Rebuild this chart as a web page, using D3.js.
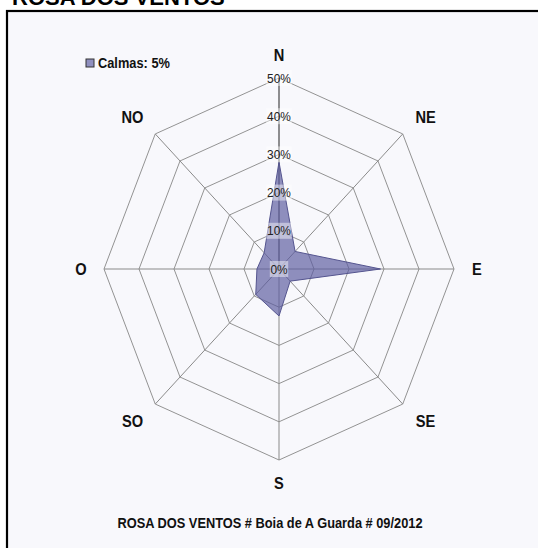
<!DOCTYPE html>
<html>
<head>
<meta charset="utf-8">
<script src="https://cdn.jsdelivr.net/npm/d3@7"></script>
<style>
  html, body { margin: 0; padding: 0; background: #fff; }
  svg { display: block; }
</style>
</head>
<body>
<div id="chart"></div>
<script>
// wind directions and frequency (%)
const directions = ['N', 'NE', 'E', 'SE', 'S', 'SO', 'O', 'NO'];
const frequency = [28, 6.5, 29, 4.5, 12.3, 9.4, 6.3, 6];
const ticks = [0, 10, 20, 30, 40, 50];
const tickLabels = ['0%', '10%', '20%', '30%', '40%', '50%'];
const calmas = 5;

const width = 538, height = 548;
const cx = 279, cy = 269;
const sx = 0.916; // picture is squeezed horizontally

const svg = d3.select('#chart')
    .append('svg')
    .attr('width', width)
    .attr('height', height);

// frame
svg.append('rect')
    .attr('x', 7).attr('y', 11)
    .attr('width', 560).attr('height', 560)
    .attr('fill', '#f8f8fc')
    .attr('stroke', '#000')
    .attr('stroke-width', 2.2);

svg.append('text')
    .attr('x', 12).attr('y', 5)
    .attr('font-family', 'Liberation Sans, Arial, sans-serif')
    .attr('font-weight', 'bold')
    .attr('font-size', 22)
    .attr('fill', '#000')
    .text('ROSA DOS VENTOS');

const rx = d3.scaleLinear().domain([0, 50]).range([0, 175]);
const ry = d3.scaleLinear().domain([0, 50]).range([0, 191]);
const angle = d3.scaleBand().domain(directions).range([0, 2 * Math.PI]);

function px(d, v) { return cx + rx(v) * Math.sin(angle(d)); }
function py(d, v) { return cy - ry(v) * Math.cos(angle(d)); }

const g = svg.append('g');

// rings
g.append('g')
    .selectAll('polygon')
    .data(ticks.slice(1))
    .join('polygon')
    .attr('points', t => directions.map(d => [px(d, t), py(d, t)].join(',')).join(' '))
    .attr('fill', 'none')
    .attr('stroke', '#939393')
    .attr('stroke-width', 1);

// spokes
g.append('g')
    .selectAll('line')
    .data(directions)
    .join('line')
    .attr('x1', cx).attr('y1', cy)
    .attr('x2', d => px(d, 50))
    .attr('y2', d => py(d, 50))
    .attr('stroke', d => d === 'N' ? '#222' : '#8a8a8a')
    .attr('stroke-width', 1);

// data polygon
g.append('polygon')
    .attr('points', directions.map((d, i) => [px(d, frequency[i]), py(d, frequency[i])].join(',')).join(' '))
    .attr('fill', '#5b5b9f')
    .attr('fill-opacity', 0.68)
    .attr('stroke', '#55558f')
    .attr('stroke-width', 1);

// tick labels on the N axis
const tl = g.append('g')
    .selectAll('g')
    .data(ticks)
    .join('g')
    .attr('transform', t => `translate(${cx},${cy - ry(t)})`);

tl.append('rect')
    .attr('x', (t, i) => -(tickLabels[i].length * 7.2 + 4) / 2)
    .attr('y', -8)
    .attr('width', (t, i) => tickLabels[i].length * 7.2 + 4)
    .attr('height', 16)
    .attr('fill', '#fff')
    .attr('fill-opacity', 0.45);

tl.append('text')
    .attr('text-anchor', 'middle')
    .attr('dy', '0.36em')
    .attr('transform', `scale(${sx},1)`)
    .attr('font-family', 'Liberation Sans, Arial, sans-serif')
    .attr('font-size', 13)
    .attr('fill', '#222')
    .text((t, i) => tickLabels[i]);

// direction labels
const lx = d3.scaleLinear().domain([0, 50]).range([0, 198]);
const ly = d3.scaleLinear().domain([0, 50]).range([0, 214]);
g.append('g')
    .selectAll('text')
    .data(directions)
    .join('text')
    .attr('transform', d => `translate(${cx + lx(50) * Math.sin(angle(d)) * (d.length > 1 ? 0.74 / 0.707 : 1)},${cy - ly(50) * Math.cos(angle(d)) * (d.length > 1 ? 0.71 / 0.707 : 1)}) scale(${sx},1)`)
    .attr('text-anchor', 'middle')
    .attr('dy', '0.36em')
    .attr('font-family', 'Liberation Sans, Arial, sans-serif')
    .attr('font-weight', 'bold')
    .attr('font-size', 16)
    .attr('fill', '#111')
    .text(d => d);

// legend
const leg = svg.append('g').attr('transform', 'translate(86,59)');
leg.append('rect')
    .attr('width', 8).attr('height', 8)
    .attr('fill', '#8f8fbf')
    .attr('stroke', '#333')
    .attr('stroke-width', 1);
leg.append('text')
    .attr('transform', `translate(12,8.5) scale(${sx},1)`)
    .attr('font-family', 'Liberation Sans, Arial, sans-serif')
    .attr('font-weight', 'bold')
    .attr('font-size', 14)
    .attr('fill', '#111')
    .text('Calmas: ' + calmas + '%');

// caption
svg.append('text')
    .attr('transform', `translate(270,528) scale(${sx},1)`)
    .attr('text-anchor', 'middle')
    .attr('font-family', 'Liberation Sans, Arial, sans-serif')
    .attr('font-weight', 'bold')
    .attr('font-size', 14)
    .attr('fill', '#111')
    .text('ROSA DOS VENTOS # Boia de A Guarda # 09/2012');
</script>
</body>
</html>
